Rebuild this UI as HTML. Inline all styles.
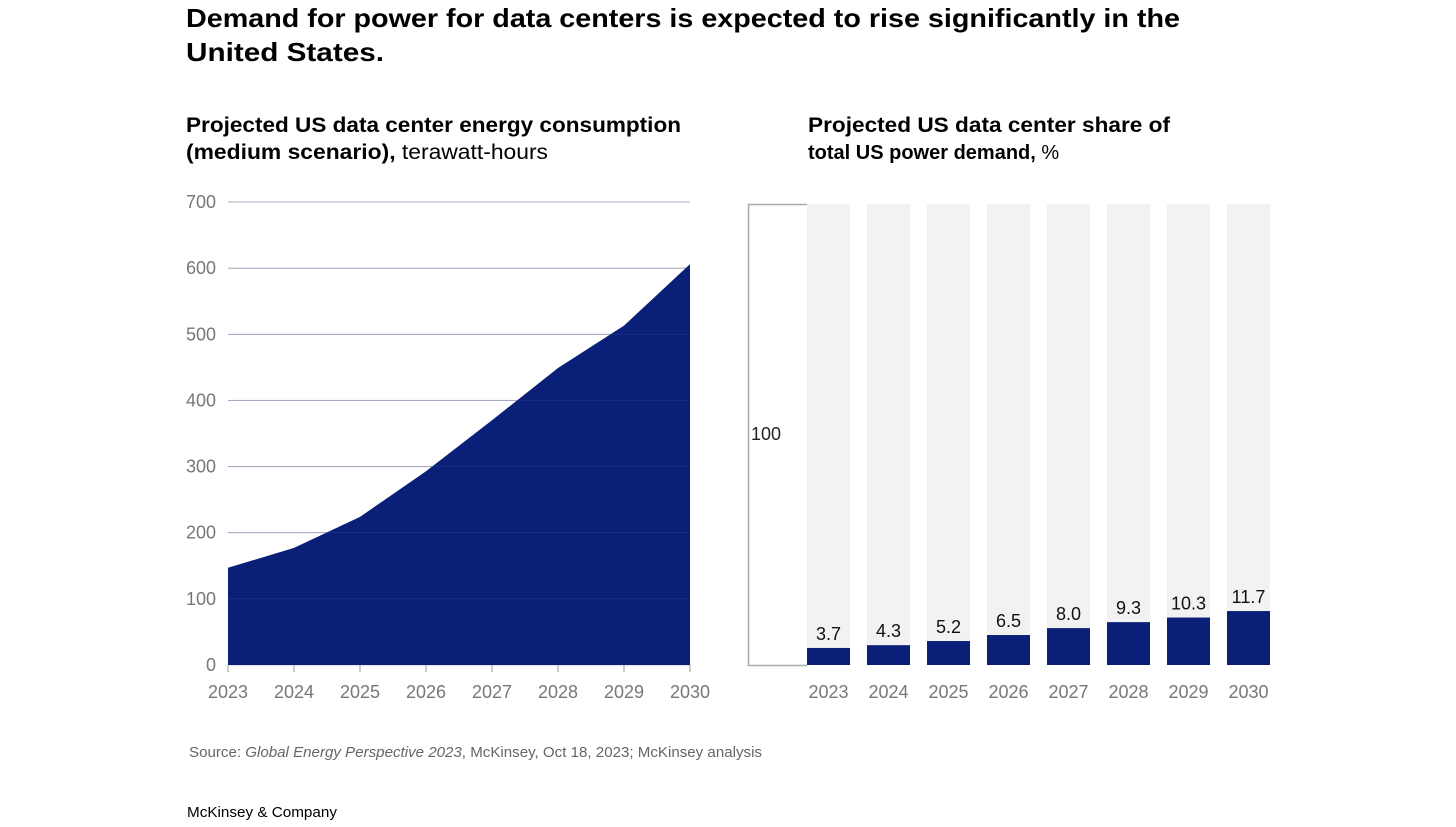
<!DOCTYPE html>
<html><head><meta charset="utf-8">
<style>
body{margin:0;background:#fff;width:1456px;height:827px;overflow:hidden;font-family:"Liberation Sans",sans-serif;color:#000}
svg{position:absolute;left:0;top:0}
</style></head>
<body>
<svg width="1456" height="827">
<text x="186" y="27" font-size="26" font-weight="bold" textLength="994" lengthAdjust="spacingAndGlyphs">Demand for power for data centers is expected to rise significantly in the</text>
<text x="186" y="61" font-size="26" font-weight="bold" textLength="198" lengthAdjust="spacingAndGlyphs">United States.</text>
<text x="186" y="132" font-size="21" font-weight="bold" textLength="495" lengthAdjust="spacingAndGlyphs">Projected US data center energy consumption</text>
<text x="186" y="159" font-size="21" textLength="362" lengthAdjust="spacingAndGlyphs"><tspan font-weight="bold">(medium scenario),</tspan> terawatt-hours</text>
<text x="808" y="132" font-size="21" font-weight="bold" textLength="362" lengthAdjust="spacingAndGlyphs">Projected US data center share of</text>
<text x="808" y="159" font-size="20"><tspan font-weight="bold">total US power demand,</tspan> %</text>
<g id="left"></g>
<g id="right"></g>
<text x="189" y="757" font-size="14.5" fill="#666" textLength="573" lengthAdjust="spacingAndGlyphs">Source: <tspan font-style="italic">Global Energy Perspective 2023</tspan>, McKinsey, Oct 18, 2023; McKinsey analysis</text>
<text x="187" y="817" font-size="15" textLength="150" lengthAdjust="spacingAndGlyphs">McKinsey &amp; Company</text>
</svg>
<script>
const years=["2023","2024","2025","2026","2027","2028","2029","2030"];
const energyTWh=[147,177,224,293,370,449,513,606];
const yTicks=[0,100,200,300,400,500,600,700];
const shareLabels=["3.7","4.3","5.2","6.5","8.0","9.3","10.3","11.7"];
const shareValues=[3.7,4.3,5.2,6.5,8.0,9.3,10.3,11.7];
const NS="http://www.w3.org/2000/svg";
function mk(p,t,a){const e=document.createElementNS(NS,t);for(const k in a)e.setAttribute(k,a[k]);p.appendChild(e);return e;}
const L=document.getElementById('left');
const xs=i=>228+i*66, ys=v=>665-v*463/700;
yTicks.forEach(t=>{
 const l=mk(L,'line',{x1:228,x2:690,y1:ys(t),y2:ys(t),stroke:'#d0d0d0','stroke-width':1});
 
 
 const tx=mk(L,'text',{x:216,y:ys(t)+6,'font-size':18,fill:'#777','text-anchor':'end'});tx.textContent=t;
 
 
});
let d='M'+xs(0)+','+ys(0);
energyTWh.forEach((v,i)=>d+=' L'+xs(i)+','+ys(v));
d+=' L'+xs(energyTWh.length-1)+','+ys(0)+'Z';
const ar=mk(L,'path',{d:d,fill:'#0a1f78'});


yTicks.slice(1).forEach(t=>{mk(L,'line',{x1:228,x2:690,y1:ys(t),y2:ys(t),stroke:'#3a4b90','stroke-width':0.6,opacity:0.5});});
years.forEach((y,i)=>{
 const tk=mk(L,'line',{x1:xs(i),x2:xs(i),y1:665,y2:672,stroke:'#999'});
 
 
 const tx=mk(L,'text',{x:xs(i),y:698,'font-size':18,fill:'#777','text-anchor':'middle'});tx.textContent=y;
 
 
});
const R=document.getElementById('right');
const bx=i=>807+i*60, bh=v=>v*461/100;
const br=mk(R,'path',{d:'M807,204.5 H748.5 V665.5 H807',fill:'none',stroke:'#aaa','stroke-width':1.5});


const h=mk(R,'text',{x:751,y:440,'font-size':18,fill:'#222'});h.textContent='100';


shareValues.forEach((v,i)=>{
 const bg=mk(R,'rect',{x:bx(i),y:204,width:43,height:461,fill:'#f2f2f2'});
 
 
 const b=mk(R,'rect',{x:bx(i),y:665-bh(v),width:43,height:bh(v),fill:'#0a1f78'});
 
 
 const lb=mk(R,'text',{x:bx(i)+21.5,y:665-bh(v)-8,'font-size':18,fill:'#111','text-anchor':'middle'});lb.textContent=shareLabels[i];
 
 
 const tx=mk(R,'text',{x:bx(i)+21.5,y:698,'font-size':18,fill:'#777','text-anchor':'middle'});tx.textContent=years[i];
 
 
});
</script>
</body></html>
